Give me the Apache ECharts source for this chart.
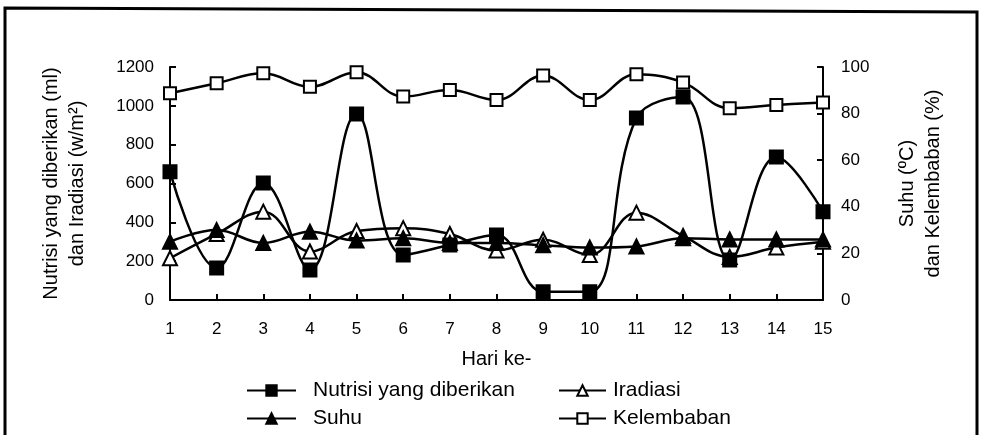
<!DOCTYPE html>
<html>
<head>
<meta charset="utf-8">
<script src="https://cdn.jsdelivr.net/npm/echarts@6/dist/echarts.min.js"></script>
<style>
html,body{margin:0;padding:0;background:#fff;}
#c{width:981px;height:435px;}
</style>
</head>
<body>
<div id="c"></div>
<script>
var days = ['1','2','3','4','5','6','7','8','9','10','11','12','13','14','15'];
var nutrisi = [660, 165, 603, 155, 958, 232, 283, 335, 43, 43, 937, 1045, 206, 736, 455];
var iradiasi = [215, 340, 455, 250, 355, 370, 340, 255, 310, 232, 450, 330, 222, 270, 300];
var suhu = [25, 30, 24.5, 29.3, 25.5, 26.5, 24.5, 24.5, 23.5, 22.5, 23, 26.5, 26, 26, 26];
var kelembaban = [88.7, 93, 97.3, 91.5, 97.7, 87.3, 90.1, 85.8, 96.3, 85.8, 96.9, 93.4, 82.3, 83.7, 84.8];
var leftTicks = [0, 1200, 200];
var rightTicks = [0, 100, 20];

var FONT = '"Liberation Sans", Arial, sans-serif';
var chart = echarts.init(document.getElementById('c'), null, {renderer: 'canvas'});

function lineSeries(name, data, yIdx, symbol, size, fill) {
  return {
    name: name, type: 'line', data: data, yAxisIndex: yIdx,
    smooth: 0.4, symbol: symbol, symbolSize: size, showSymbol: true,
    lineStyle: {color: '#000', width: 2.5},
    itemStyle: {color: fill, borderColor: '#000', borderWidth: 2},
    emphasis: {disabled: true}, animation: false
  };
}
function plain(v) { return String(v); }

var option = {
  animation: false,
  backgroundColor: '#fff',
  grid: {left: 170, right: 158, top: 67, bottom: 135, containLabel: false},
  xAxis: {
    type: 'category', data: days, boundaryGap: false,
    name: 'Hari ke-', nameLocation: 'middle', nameGap: 49,
    nameTextStyle: {fontFamily: FONT, fontSize: 20, color: '#000'},
    axisLine: {lineStyle: {color: '#000', width: 2}},
    axisTick: {show: true, inside: true, length: 6, lineStyle: {color: '#000', width: 2}},
    axisLabel: {fontFamily: FONT, fontSize: 17, color: '#000', margin: 21}
  },
  yAxis: [{
    type: 'value', min: leftTicks[0], max: leftTicks[1], interval: leftTicks[2], position: 'left',
    name: 'Nutrisi yang diberikan (ml)\ndan Iradiasi (w/m²)', nameLocation: 'middle', nameGap: 80, nameRotate: 90,
    nameTextStyle: {fontFamily: FONT, fontSize: 20, color: '#000', lineHeight: 26},
    axisLine: {show: true, lineStyle: {color: '#000', width: 2}},
    axisTick: {show: true, inside: true, length: 6, lineStyle: {color: '#000', width: 2}},
    axisLabel: {fontFamily: FONT, fontSize: 17, color: '#000', margin: 16, formatter: plain},
    splitLine: {show: false}
  }, {
    type: 'value', min: rightTicks[0], max: rightTicks[1], interval: rightTicks[2], position: 'right',
    name: 'Suhu (ºC)\ndan Kelembaban (%)', nameLocation: 'middle', nameGap: 71, nameRotate: 90,
    nameTextStyle: {fontFamily: FONT, fontSize: 20, color: '#000', lineHeight: 26},
    axisLine: {show: true, lineStyle: {color: '#000', width: 2}},
    axisTick: {show: true, inside: true, length: 6, lineStyle: {color: '#000', width: 2}},
    axisLabel: {fontFamily: FONT, fontSize: 17, color: '#000', margin: 18, formatter: plain},
    splitLine: {show: false}
  }],
  legend: [{
    left: 246, top: 380, orient: 'vertical', padding: 0, itemGap: 7,
    itemWidth: 49, itemHeight: 13,
    data: ['Nutrisi yang diberikan', 'Suhu'],
    textStyle: {fontFamily: FONT, fontSize: 21, color: '#000', lineHeight: 16, padding: [0, 0, 0, 12]},
    selectedMode: false
  }, {
    left: 558, top: 380, orient: 'vertical', padding: 0, itemGap: 7,
    itemWidth: 47, itemHeight: 13,
    data: ['Iradiasi', 'Kelembaban'],
    textStyle: {fontFamily: FONT, fontSize: 21, color: '#000', lineHeight: 16, padding: [0, 0, 0, 2]},
    selectedMode: false
  }],
  graphic: [
    {type: 'polyline', shape: {points: [[5, 435], [5, 8], [977, 12], [977, 435]]},
     style: {stroke: '#000', lineWidth: 3, fill: null}, silent: true}
  ],
  series: [
    lineSeries('Kelembaban', kelembaban, 1, 'rect', 12, '#fff'),
    lineSeries('Iradiasi', iradiasi, 0, 'triangle', 14, '#fff'),
    lineSeries('Suhu', suhu, 1, 'triangle', 14, '#000'),
    lineSeries('Nutrisi yang diberikan', nutrisi, 0, 'rect', 13, '#000')
  ]
};
chart.setOption(option);
</script>
</body>
</html>
